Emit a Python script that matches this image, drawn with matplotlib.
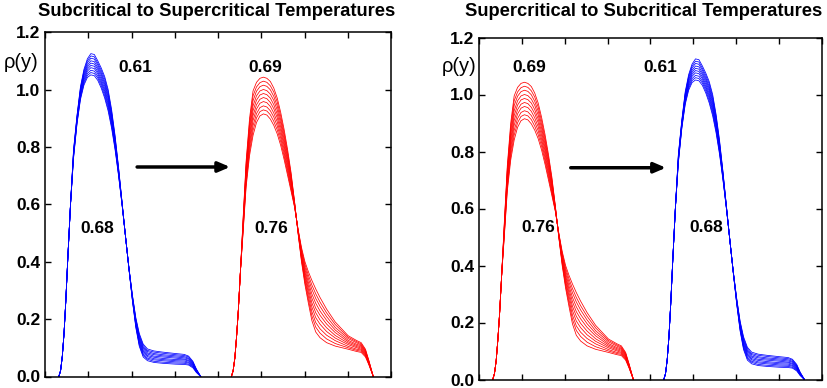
import matplotlib
matplotlib.use('Agg')
import matplotlib.pyplot as plt

plt.rcParams['font.family'] = ['Liberation Sans', 'DejaVu Sans']

# position across one slab, in x-tick units measured from where the slab starts
profile_u = [0.00, 0.04, 0.08, 0.12, 0.16, 0.21, 0.27, 0.34, 0.42, 0.50, 0.58, 0.66,
             0.74, 0.82, 0.90, 0.98, 1.06, 1.14, 1.22, 1.30, 1.38, 1.46, 1.54, 1.62,
             1.70, 1.78, 1.86, 1.95, 2.05, 2.20, 2.40, 2.70, 2.90, 3.00, 3.10, 3.18, 3.28]

# subcritical (blue) profiles: common rising edge, then one row per temperature
blue_rise = [0.0, 0.02, 0.07, 0.15, 0.26, 0.42, 0.60]
blue_profiles = [
    [.790, .910, 1.010, 1.070, 1.107, 1.125, 1.122, 1.100, 1.075, 1.045, 1.000, .930, .840, .730, .610, .490, .375, .265, .170, .105, .068, .055, .049, .046, .043, .042, .040, .030, .014, 0],
    [.787, .907, 1.005, 1.064, 1.100, 1.117, 1.114, 1.092, 1.067, 1.037, .992, .923, .834, .727, .609, .490, .376, .267, .174, .110, .073, .060, .053, .050, .047, .046, .043, .033, .015, 0],
    [.783, .903, 1.000, 1.058, 1.093, 1.109, 1.106, 1.085, 1.059, 1.028, .983, .916, .829, .723, .608, .490, .376, .269, .178, .115, .078, .064, .058, .055, .051, .050, .047, .035, .017, 0],
    [.780, .900, .995, 1.052, 1.085, 1.100, 1.097, 1.077, 1.052, 1.020, .975, .908, .823, .720, .607, .490, .377, .272, .182, .120, .083, .069, .062, .059, .055, .054, .050, .038, .018, 0],
    [.777, .897, .990, 1.046, 1.078, 1.092, 1.089, 1.070, 1.044, 1.012, .967, .901, .818, .717, .606, .490, .377, .274, .186, .125, .088, .073, .067, .063, .059, .058, .054, .040, .019, 0],
    [.773, .893, .985, 1.039, 1.071, 1.084, 1.081, 1.062, 1.036, 1.003, .958, .894, .812, .713, .604, .490, .378, .276, .189, .130, .093, .078, .071, .068, .064, .061, .057, .043, .021, 0],
    [.770, .890, .980, 1.033, 1.064, 1.076, 1.073, 1.055, 1.028, .995, .950, .887, .807, .710, .603, .490, .378, .278, .193, .135, .098, .082, .076, .072, .068, .065, .061, .045, .022, 0],
    [.767, .887, .975, 1.027, 1.056, 1.067, 1.064, 1.047, 1.021, .987, .942, .879, .801, .707, .602, .490, .379, .281, .197, .140, .103, .087, .080, .076, .072, .069, .064, .048, .023, 0],
    [.763, .883, .970, 1.021, 1.049, 1.059, 1.056, 1.040, 1.013, .978, .933, .872, .796, .703, .601, .490, .379, .283, .201, .145, .108, .091, .085, .081, .076, .073, .068, .050, .025, 0],
    [.760, .880, .965, 1.015, 1.042, 1.051, 1.048, 1.032, 1.005, .970, .925, .865, .790, .700, .600, .490, .380, .285, .205, .150, .113, .096, .089, .085, .080, .077, .071, .053, .026, 0],
]

# supercritical (red) profiles
red_rise = [0.0, 0.02, 0.065, 0.14, 0.23, 0.37]
red_profiles = [
    [.550, .750, .900, .995, 1.025, 1.039, 1.043, 1.039, 1.028, 1.005, .970, .920, .860, .790, .710, .610, .500, .400, .320, .255, .195, .155, .135, .118, .106, .095, .087, .084, .068, .040, 0],
    [.544, .740, .886, .978, 1.009, 1.024, 1.029, 1.025, 1.013, .991, .956, .907, .848, .780, .703, .608, .502, .406, .329, .267, .211, .172, .151, .131, .115, .100, .091, .088, .071, .042, 0],
    [.539, .730, .871, .961, .994, 1.010, 1.015, 1.011, .999, .976, .942, .894, .837, .770, .696, .606, .503, .411, .338, .279, .226, .188, .166, .144, .125, .105, .095, .092, .074, .043, 0],
    [.533, .720, .857, .943, .978, .995, 1.000, .996, .984, .962, .928, .882, .825, .760, .688, .603, .505, .417, .347, .292, .242, .205, .182, .157, .134, .111, .100, .095, .077, .045, 0],
    [.528, .710, .842, .926, .963, .981, .986, .982, .970, .947, .914, .869, .813, .750, .681, .601, .507, .422, .356, .304, .257, .222, .197, .170, .143, .116, .104, .099, .080, .047, 0],
    [.522, .700, .828, .909, .947, .966, .972, .968, .955, .933, .901, .856, .802, .740, .674, .599, .508, .428, .364, .316, .273, .238, .213, .183, .153, .121, .108, .103, .083, .048, 0],
    [.517, .690, .813, .892, .932, .952, .958, .954, .941, .918, .887, .843, .790, .730, .667, .597, .510, .433, .373, .328, .288, .255, .228, .196, .162, .126, .112, .107, .086, .050, 0],
    [.511, .680, .799, .874, .916, .937, .943, .939, .926, .904, .873, .831, .778, .720, .659, .594, .512, .439, .382, .341, .304, .272, .244, .209, .171, .132, .117, .110, .089, .052, 0],
    [.506, .670, .784, .857, .901, .923, .929, .925, .912, .889, .859, .818, .767, .710, .652, .592, .513, .444, .391, .353, .319, .288, .259, .222, .181, .137, .121, .114, .092, .053, 0],
    [.500, .660, .770, .840, .885, .908, .915, .911, .897, .875, .845, .805, .755, .700, .645, .590, .515, .450, .400, .365, .335, .305, .275, .235, .190, .142, .125, .118, .095, .055, 0],
]

slab_starts = [0.32, 4.31]
panel_titles = ['Subcritical to Supercritical Temperatures',
                'Supercritical to Subcritical Temperatures']
y_ticks = [0.0, 0.2, 0.4, 0.6, 0.8, 1.0, 1.2]
x_ticks = list(range(9))


def draw_family(ax, rise, profiles, start, color):
    for row in profiles:
        ys = rise + row
        xs = [start + u for u in profile_u]
        ax.plot(xs, ys, color=color, lw=0.55)


def setup_axes(ax):
    ax.set_xlim(0, 8)
    ax.set_ylim(0, 1.2)
    ax.set_xticks(x_ticks)
    ax.set_xticklabels([])
    ax.set_yticks(y_ticks)
    ax.set_yticklabels(['%.1f' % v for v in y_ticks], fontweight='bold')
    ax.tick_params(direction='in', top=True, right=True, length=4, width=1,
                   labelsize=12.5, pad=3.5)
    for sp in ax.spines.values():
        sp.set_linewidth(1.1)


fig = plt.figure(figsize=(8.28, 3.88), dpi=100)
ax1 = fig.add_axes([45 / 828, 11.5 / 388, 346 / 828, 344.4 / 388])
ax2 = fig.add_axes([479 / 828, 8.5 / 388, 343 / 828, 342 / 388])

# left: subcritical -> supercritical
draw_family(ax1, blue_rise, blue_profiles, slab_starts[0], 'blue')
draw_family(ax1, red_rise, red_profiles, slab_starts[1], 'red')
# right: supercritical -> subcritical
draw_family(ax2, red_rise, red_profiles, slab_starts[0], 'red')
draw_family(ax2, blue_rise, blue_profiles, slab_starts[1], 'blue')

for ax in (ax1, ax2):
    setup_axes(ax)

lbl = dict(ha='center', va='center', fontsize=12.5, fontweight='bold')
ax1.text(2.08, 1.078, '0.61', **lbl)
ax1.text(5.09, 1.078, '0.69', **lbl)
ax1.text(1.20, 0.514, '0.68', **lbl)
ax1.text(5.23, 0.514, '0.76', **lbl)
ax2.text(1.17, 1.096, '0.69', **lbl)
ax2.text(4.24, 1.096, '0.61', **lbl)
ax2.text(1.38, 0.535, '0.76', **lbl)
ax2.text(5.29, 0.535, '0.68', **lbl)

arrow = dict(arrowstyle='-|>,head_length=0.7,head_width=0.3', lw=2.5,
             color='black', shrinkA=0, shrinkB=0)
ax1.annotate('', xy=(4.28, 0.73), xytext=(2.13, 0.73), arrowprops=arrow)
ax2.annotate('', xy=(4.36, 0.743), xytext=(2.14, 0.743), arrowprops=arrow)

fig.text(217 / 828, 1 - 11 / 388, panel_titles[0], ha='center', va='center',
         fontsize=13.2, fontweight='bold')
fig.text(644 / 828, 1 - 11 / 388, panel_titles[1], ha='center', va='center',
         fontsize=13.2, fontweight='bold')
fig.text(21 / 828, 1 - 63 / 388, 'ρ(y)', ha='center', va='center', fontsize=14.5)
fig.text(459 / 828, 1 - 66 / 388, 'ρ(y)', ha='center', va='center', fontsize=14.5)

fig.savefig('out.png', dpi=100)
